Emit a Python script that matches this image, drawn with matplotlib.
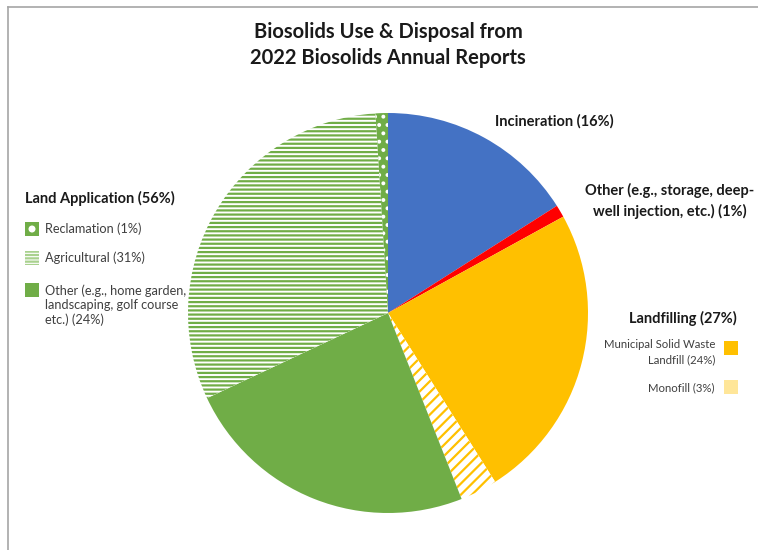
import matplotlib
matplotlib.use("Agg")
import matplotlib.pyplot as plt
from matplotlib.patches import Rectangle, Ellipse
from matplotlib.lines import Line2D

# ---- data ----
categories = ["Incineration", "Other (storage, deep-well injection)",
              "Municipal Solid Waste Landfill", "Monofill",
              "Land App. Other", "Agricultural", "Reclamation"]
values = [16, 1, 24, 3, 24, 31, 1]

title = "Biosolids Use & Disposal from\n2022 Biosolids Annual Reports"

BLUE = "#4472C4"
RED = "#FF0000"
YELLOW = "#FFC000"
LIGHTYELLOW = "#FFE699"
GREEN = "#70AD47"
LIGHTGREEN = "#A9D18E"

plt.rcParams["font.family"] = ["Lato", "DejaVu Sans"]
plt.rcParams["hatch.linewidth"] = 1.6

W, H = 758, 550
fig = plt.figure(figsize=(W / 100, H / 100), dpi=100)
fig.patch.set_facecolor("white")

# pie axes: centre (388, 313) px from top-left, radius 200 px
cx, cy, r = 388, 313, 200
ax = fig.add_axes([(cx - r) / W, (H - cy - r) / H, 2 * r / W, 2 * r / H])

wedges, _ = ax.pie(values, startangle=90, counterclock=False, radius=1.0,
                   center=(0, 0), frame=False)
ax.set_xlim(-1, 1)
ax.set_ylim(-1, 1)
ax.set_aspect("auto")
ax.axis("off")

styles = [
    dict(fc=BLUE, ec=BLUE, hatch=None),
    dict(fc=RED, ec=RED, hatch=None),
    dict(fc=YELLOW, ec=YELLOW, hatch=None),
    dict(fc="white", ec=YELLOW, hatch="///"),
    dict(fc=GREEN, ec=GREEN, hatch=None),
    dict(fc="white", ec=GREEN, hatch="----"),
    dict(fc=GREEN, ec="white", hatch=".."),
]
for w, s in zip(wedges, styles):
    w.set_facecolor(s["fc"])
    w.set_edgecolor(s["ec"])
    w.set_linewidth(0)
    if s["hatch"]:
        w.set_hatch(s["hatch"])

def fx(px):
    return px / W

def fy(py):
    return 1 - py / H

# title
fig.text(fx(388), fy(45), title, ha="center", va="center", fontsize=14.5,
         fontweight="bold", linespacing=1.35, color="#1a1a1a")

lab = dict(fontsize=10.5, fontweight="bold", color="#1a1a1a")
small_r = dict(fontsize=8.2, color="#404040")
small_l = dict(fontsize=9.2, color="#404040")

# right side labels
fig.text(fx(495), fy(121), "Incineration (16%)", ha="left", va="center", **lab)
fig.text(fx(670), fy(201), "Other (e.g., storage, deep-\nwell injection, etc.) (1%)",
         ha="center", va="center", linespacing=1.45, **lab)
fig.text(fx(737), fy(318), "Landfilling (27%)", ha="right", va="center", **lab)
fig.text(fx(715), fy(352), "Municipal Solid Waste\nLandfill (24%)", ha="right",
         va="center", linespacing=1.4, **small_r)
fig.text(fx(715), fy(388), "Monofill (3%)", ha="right", va="center", **small_r)

sq = 14
fig.patches.append(Rectangle((fx(724), fy(348 + sq / 2)), sq / W, sq / H,
                             transform=fig.transFigure, fc=YELLOW, ec="none"))
fig.patches.append(Rectangle((fx(724), fy(387 + sq / 2)), sq / W, sq / H,
                             transform=fig.transFigure, fc=LIGHTYELLOW, ec="none"))

# left side labels
fig.text(fx(25), fy(198), "Land Application (56%)", ha="left", va="center", **lab)
fig.text(fx(45), fy(229), "Reclamation (1%)", ha="left", va="center", **small_l)
fig.text(fx(45), fy(258), "Agricultural (31%)", ha="left", va="center", **small_l)
fig.text(fx(45), fy(305), "Other (e.g., home garden,\nlandscaping, golf course\netc.) (24%)",
         ha="left", va="center", linespacing=1.2, **small_l)

fig.patches.append(Rectangle((fx(25), fy(229 + sq / 2)), sq / W, sq / H,
                             transform=fig.transFigure, fc=GREEN, ec="none"))
fig.patches.append(Ellipse((fx(25 + sq / 2), fy(229)), 7 / W, 7 / H,
                           transform=fig.transFigure, fc="white", ec="none"))
fig.patches.append(Rectangle((fx(25), fy(258 + sq / 2)), sq / W, sq / H,
                             transform=fig.transFigure, fc="white", ec=LIGHTGREEN,
                             lw=0, hatch="-----"))
fig.patches.append(Rectangle((fx(25), fy(290 + sq / 2)), sq / W, sq / H,
                             transform=fig.transFigure, fc=GREEN, ec="none"))

# border lines (left and top)
fig.lines.append(Line2D([fx(8), fx(8)], [fy(7), 0], transform=fig.transFigure,
                        color="#A6A6A6", lw=1.2))
fig.lines.append(Line2D([fx(8), 1], [fy(7), fy(7)], transform=fig.transFigure,
                        color="#A6A6A6", lw=1.2))

fig.savefig("out.png", dpi=100, facecolor="white")
